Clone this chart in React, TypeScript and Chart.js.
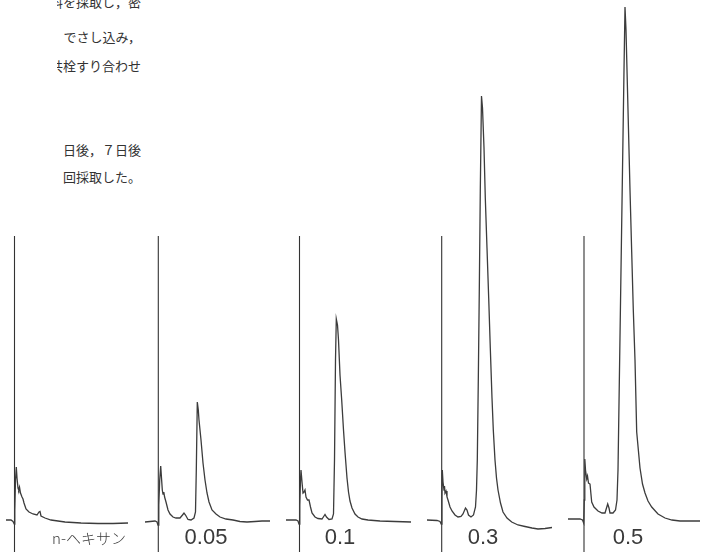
import { useEffect, useRef } from "react";
import { Chart, registerables } from "chart.js";

Chart.register(...registerables);

// Sample names shown under each chromatogram
const traceNames = ["n-ヘキサン", "0.05", "0.1", "0.3", "0.5"];
// Injection mark position of each chromatogram along the strip
const injectionAt = [14.5, 158.3, 299.5, 441.7, 584];

// Retention (relative to injection) and detector response, per chromatogram
const hexaneTime = [-8.5, -3.5, -1.5, -0.2, 0.3, 1, 1.8, 2.5, 3.5, 4.2, 5, 6, 7.5, 8.5, 9.5, 11.5, 14.5, 18.5, 22.5, 24.5, 25.5, 26.5, 30.5, 36.5, 50.5, 66.5, 83.5, 98.5, 113.5];
const hexaneSignal = [2, 2, 0.5, -2, 12, 42, 55, 44, 34, 32, 35, 29, 25, 23, 19, 13, 10, 8, 7, 10, 10.5, 6, 4, 2, 0, -1, -1.5, -1.5, -1];

const c005Time = [-13.3, -3.3, -1.3, -0.3, 0.5, 1.4, 2.4, 3.2, 4, 4.7, 5.5, 6.3, 7.7, 9.7, 11.7, 14.7, 17.7, 21.7, 24.2, 25.7, 27.2, 29.7, 32.7, 35.7, 37.2, 38, 39, 40, 40.7, 42.7, 44.7, 46.7, 48.7, 50.7, 53.7, 57.7, 61.7, 67.7, 74.7, 81.7, 88.7, 96.7, 103.7, 111.7];
const c005Signal = [0, 1, 0, -3, 17, 42, 56, 44, 32, 28, 30, 25, 20, 12, 8, 5, 4, 4, 7, 9, 7, 2.5, 2, 4, 10, 52, 120, 112, 102, 82, 59, 42, 29, 20, 12, 8, 5, 3, 2, 0.5, 0, 0.5, 1, 1];

const c01Time = [-13.5, -3.5, -1.5, -0.5, 0.3, 1, 1.5, 2.5, 3.5, 4.5, 5.5, 6.5, 8, 9.5, 11, 12.5, 15.5, 18.5, 22.5, 24.5, 25.5, 27, 29.5, 32.5, 34, 35, 36, 36.8, 38, 39, 40.5, 42.2, 44, 45.5, 47.5, 49, 50.5, 52.5, 55.5, 58.5, 62.5, 68.5, 80.5, 95.5, 111.5];
const c01Signal = [2, 2, 1, -2, 17, 42, 52, 40, 29, 30, 32, 25, 22, 22, 15, 9, 5, 3.5, 3, 6, 7.5, 5, 2.5, 3, 8, 62, 162, 203, 197, 182, 147, 122, 92, 70, 44, 30, 21, 14, 8, 5, 3, 2, 1, 0.5, 0];

const c03Time = [-14.7, -4.7, -1.7, -0.5, 0.2, 0.6, 1.3, 2.3, 2.8, 3.3, 4.3, 5.3, 6.3, 8.3, 10.3, 13.3, 16.3, 19.3, 21.3, 23.8, 25.3, 26.8, 29.3, 31.8, 33.8, 34.8, 35.6, 36.6, 37.6, 38.6, 39.8, 40.8, 42.3, 43.6, 45.3, 47, 48.6, 50.3, 51.6, 53.3, 54.8, 56.3, 58.8, 61.3, 65.3, 70, 76.3, 83.3, 90.3, 96.3, 103.3, 110.3];
const c03Signal = [2, 1.5, 0.5, -2, 22, 52, 40, 32, 36, 29, 31, 25, 22, 15, 11, 7, 5, 5.5, 8, 14, 12, 7, 5, 7, 15, 32, 62, 142, 232, 332, 426, 414, 374, 324, 274, 224, 174, 124, 92, 62, 44, 32, 19, 10, 4, 0, -3, -4.5, -6, -7, -6.5, -5.5];

const c05Time = [-16, -4, -1.5, -0.3, 0.3, 0.8, 1.5, 2.7, 3.5, 4.5, 6, 7.7, 10, 14, 18, 21, 22.5, 23.7, 25, 26, 29, 31.5, 33, 34, 35.5, 37, 38.5, 40, 41, 42, 44, 46, 47.7, 49.3, 51, 52.7, 56, 58.5, 61, 64, 67.7, 74, 81, 88, 96, 106, 116];
const c05Signal = [3, 3, 2, -1, 22, 63, 52, 43, 46, 39, 38, 20, 15, 11, 9, 9, 14, 18, 14, 9, 9, 12, 22, 52, 152, 252, 352, 452, 515, 492, 412, 332, 270, 212, 162, 90, 54, 38, 29, 21, 15, 8, 4, 2, 1, 1, 1];

const traceTimes = [hexaneTime, c005Time, c01Time, c03Time, c05Time];
const traceSignals = [hexaneSignal, c005Signal, c01Signal, c03Signal, c05Signal];

// Injection mark extent (response units)
const markerTop = 286;
const markerBottom = -30;

// Label anchor (retention after injection, response)
const labelTime = [74.5, 47.7, 40.5, 41.3, 44];
const labelSignal = -16;

// Surrounding page text (scan)
const pageLines = ["試料を採取し，密", "でさし込み，", "共栓すり合わせ", "日後，７日後", "回採取した。"];
const pageLineTops = [-7, 28, 57, 141, 168];

const INK = "#3c3c3c";

const labelPlugin = {
  id: "traceLabels",
  afterDatasetsDraw(chart: any) {
    const { ctx, scales } = chart;
    ctx.save();
    ctx.fillStyle = "#3a3a3a";
    ctx.textAlign = "center";
    ctx.textBaseline = "middle";
    traceNames.forEach((name, i) => {
      const px = scales.x.getPixelForValue(injectionAt[i] + labelTime[i]);
      const py = scales.y.getPixelForValue(labelSignal);
      if (i === 0) {
        ctx.font = "300 15px 'Noto Sans CJK JP', sans-serif";
      } else {
        ctx.font = "22px 'Liberation Sans', Arial, sans-serif";
      }
      ctx.fillText(name, px, py);
    });
    ctx.restore();
  },
};

export default function App() {
  const ref = useRef<HTMLCanvasElement | null>(null);

  useEffect(() => {
    if (!ref.current) return;
    const datasets: any[] = [];
    traceTimes.forEach((times, i) => {
      datasets.push({
        data: times.map((t, k) => ({ x: injectionAt[i] + t, y: traceSignals[i][k] })),
        showLine: true,
        borderColor: INK,
        borderWidth: 1.3,
        pointRadius: 0,
        tension: 0,
      });
      datasets.push({
        data: [
          { x: injectionAt[i], y: markerTop },
          { x: injectionAt[i], y: markerBottom },
        ],
        showLine: true,
        borderColor: "#333333",
        borderWidth: 1.1,
        pointRadius: 0,
      });
    });

    const chart = new Chart(ref.current, {
      type: "scatter",
      data: { datasets },
      options: {
        animation: false,
        responsive: false,
        maintainAspectRatio: false,
        devicePixelRatio: 1,
        layout: { padding: 0 },
        plugins: { legend: { display: false }, tooltip: { enabled: false } },
        scales: {
          x: { type: "linear", min: 0, max: 704, display: false },
          y: { type: "linear", min: -36, max: 522, display: false },
        },
      },
      plugins: [labelPlugin],
    });
    return () => chart.destroy();
  }, []);

  return (
    <div style={{ position: "fixed", left: 0, top: 0, width: 704, height: 558, background: "#ffffff", overflow: "hidden" }}>
      <div style={{ position: "absolute", left: 57, top: 0, width: 84, height: 200, overflow: "hidden" }}>
        {pageLines.map((line, i) => (
          <div
            key={i}
            style={{
              position: "absolute",
              right: 0,
              top: pageLineTops[i],
              whiteSpace: "nowrap",
              fontFamily: "'Noto Sans CJK JP', sans-serif",
              fontWeight: 400,
              fontSize: 13,
              lineHeight: "18px",
              color: "#333333",
            }}
          >
            {line}
          </div>
        ))}
      </div>
      <canvas ref={ref} width={704} height={558} style={{ position: "absolute", left: 0, top: 0 }} />
    </div>
  );
}
